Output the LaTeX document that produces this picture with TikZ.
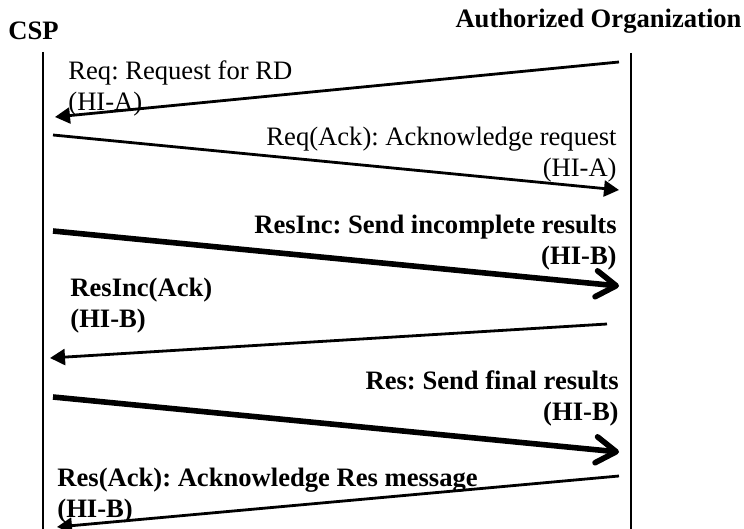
\documentclass[tikz,border=0pt]{standalone}
\usepackage{fontspec}
\setmainfont{Liberation Serif}
\frenchspacing
\usetikzlibrary{arrows.meta}
\tikzstyle{line} = [draw,line width=1.4pt,-{Triangle[length=7.5pt,width=8pt]}]
\tikzstyle{bigline} = [draw,line width=2.8pt,-{Straight Barb[length=10pt,width=13pt,round]}]
\tikzstyle{lifeline} = [draw,line width=0.85pt]
\tikzstyle{msg} = [inner sep=0pt,font=\fontsize{13.3}{15.5}\selectfont]
\tikzstyle{bmsg} = [inner sep=0pt,font=\fontsize{13.3}{15.5}\selectfont\bfseries]

\begin{document}
\begin{tikzpicture}[x=0.5pt,y=-0.5pt]
  \clip (0,0) rectangle (744,529);
  % parties
  \node[bmsg,anchor=base] (csp) at (33.5,40) {CSP};
  \node[bmsg,anchor=base] (org) at (598.5,28) {Authorized Organization};
  \coordinate (csptop) at (43,52);
  \coordinate (cspbot) at (43,529);
  \coordinate (orgtop) at (631,53);
  \coordinate (orgbot) at (631,529);
  \path[lifeline] (csptop) -- (cspbot);
  \path[lifeline] (orgtop) -- (orgbot);
  % messages
  \coordinate (req1) at (619,62);
  \coordinate (req2) at (55,117);
  \coordinate (ack1) at (53,135);
  \coordinate (ack2) at (619,190);
  \coordinate (inc1) at (53,231);
  \coordinate (inc2) at (619,286);
  \coordinate (incack1) at (607,324);
  \coordinate (incack2) at (50,358);
  \coordinate (res1) at (53,397);
  \coordinate (res2) at (619,452);
  \coordinate (resack1) at (619,476);
  \coordinate (resack2) at (57,527);
  \path[line] (req1) -- (req2);
  \path[line] (ack1) -- (ack2);
  \path[bigline] (inc1) -- (inc2);
  \path[line] (incack1) -- (incack2);
  \path[bigline] (res1) -- (res2);
  \path[line] (resack1) -- (resack2);
  % labels
  \node[msg,anchor=north west,align=left] (reqtxt) at (68,60) {Req: Request for RD\\(HI-A)};
  \node[msg,anchor=north east,align=right] (acktxt) at (617,127) {Req(Ack): Acknowledge request\\(HI-A)};
  \node[bmsg,anchor=north east,align=right] (inctxt) at (617,215) {ResInc: Send incomplete results\\(HI-B)};
  \node[bmsg,anchor=north west,align=left] (incacktxt) at (70,278) {ResInc(Ack)\\(HI-B)};
  \node[bmsg,anchor=north east,align=right] (restxt) at (619,370) {Res: Send final results\\(HI-B)};
  \node[bmsg,anchor=north west,align=left] (resacktxt) at (57,468) {Res(Ack): Acknowledge Res message\\(HI-B)};
\end{tikzpicture}
\end{document}
